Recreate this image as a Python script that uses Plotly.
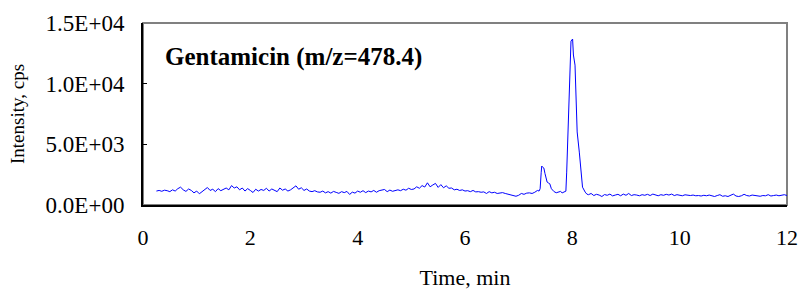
import numpy as np
import plotly.graph_objects as go

# ---- data ----
# baseline before the peaks, sampled every 0.05 min from 0.25 to 7.35 min
base1_start, base1_step = 0.25, 0.05
base1_values = [
    1150, 1200, 1130, 1220, 1180, 1100, 1250, 1150, 1350, 1470,
    1250, 1120, 1320, 1200, 1000, 1150, 925, 1100, 1250, 1440,
    1200, 1300, 1100, 1350, 1180, 1300, 1400, 1250, 1600, 1400,
    1500, 1250, 1400, 1150, 1350, 1200, 1030, 1300, 1150, 1280,
    1200, 1380, 1150, 1320, 1180, 1100, 1400, 1220, 1320, 1150,
    1250, 1380, 1580, 1300, 1420, 1200, 1320, 1150, 1100, 1180,
    1080, 1050, 1150, 1000, 1100, 980, 1120, 1040, 960, 1100,
    1020, 1120, 870, 1060, 980, 1150, 1050, 1180, 1020, 1150,
    1080, 1200, 1050, 1180, 1220, 1280, 1100, 1230, 1130, 1200,
    1250, 1180, 1300, 1220, 1380, 1280, 1320, 1500, 1380, 1600,
    1480, 1830, 1500, 1650, 1780, 1450, 1680, 1420, 1580, 1380,
    1400, 1250, 1300, 1200, 1250, 1150, 1180, 1100, 1200, 1080,
    1100, 1050, 1080, 950, 1100, 1000, 1050, 950, 980, 1020,
    950, 900, 850, 780, 720, 800, 950, 880, 980, 1000,
    950, 1050, 1200,
]

# peak region (irregular points)
peak_times = [7.38, 7.40, 7.42, 7.43, 7.45, 7.47, 7.49, 7.51, 7.53, 7.56,
              7.58, 7.61, 7.63, 7.66, 7.70, 7.74, 7.78, 7.81, 7.84, 7.88,
              7.895, 7.94, 7.97, 7.975, 8.005, 8.02, 8.05, 8.07, 8.09, 8.13,
              8.17, 8.19, 8.24, 8.27]
peak_values = [1150, 1340, 2700, 3210, 3100, 3040, 2600, 2170, 1890, 1800,
               1750, 1340, 1200, 1100, 1010, 1080, 1120, 1000, 1060, 1140,
               2710, 8080, 13320, 13510, 13680, 12360, 11530, 9050, 6020, 4360,
               2440, 1470, 1060, 900]

# baseline after the peaks, every 0.05 min from 8.30 to 12.00 min
base2_start, base2_step = 8.30, 0.05
base2_values = [
    850, 950, 780, 880, 820, 700, 860, 800, 900, 750,
    820, 880, 760, 900, 800, 950, 780, 850, 820, 760,
    850, 800, 880, 780, 900, 820, 760, 850, 800, 880,
    820, 900, 780, 850, 800, 760, 840, 800, 780, 820,
    760, 780, 740, 800, 760, 820, 740, 700, 780, 850,
    720, 760, 700, 780, 900, 740, 700, 760, 880, 780,
    740, 820, 800, 750, 720, 780, 760, 850, 740, 780,
    820, 760, 800, 850, 780,
]

y_tickvals = [0, 5000, 10000, 15000]
y_ticktext = ["0.0E+00", "5.0E+03", "1.0E+04", "1.5E+04"]
x_tickvals = [0, 2, 4, 6, 8, 10, 12]

title_text = "Gentamicin (m/z=478.4)"
x_title = "Time, min"
y_title = "Intensity, cps"

# ---- assemble ----
t1 = np.round(base1_start + base1_step * np.arange(len(base1_values)), 3)
t2 = np.round(base2_start + base2_step * np.arange(len(base2_values)), 3)
times = list(t1) + peak_times + list(t2)
values = base1_values + peak_values + base2_values

FONT = "Liberation Serif, Times New Roman, serif"

fig = go.Figure()
fig.add_trace(go.Scatter(x=times, y=values, mode="lines",
                         line=dict(color="#0000FF", width=1), showlegend=False,
                         hoverinfo="skip"))

fig.update_layout(
    width=799, height=290,
    margin=dict(l=143, r=12, t=23, b=85),
    paper_bgcolor="white", plot_bgcolor="white",
    font=dict(family=FONT, size=22, color="black"),
    xaxis=dict(range=[0, 12], tickvals=x_tickvals, ticks="", showgrid=False,
               zeroline=False, showline=True, linecolor="black", linewidth=2,
               ticklabelstandoff=12, automargin=False,
               title=dict(text=x_title, font=dict(size=22), standoff=29)),
    yaxis=dict(range=[0, 15000], tickvals=y_tickvals, ticktext=y_ticktext,
               ticks="inside", ticklen=4, tickwidth=1, tickcolor="black",
               showgrid=False, zeroline=False, showline=True, linecolor="black",
               linewidth=2, ticklabelstandoff=12, automargin=False,
               tickfont=dict(size=23),
               title=dict(text=y_title, font=dict(size=19), standoff=16)),
    shapes=[dict(type="rect", xref="paper", yref="paper", x0=0, x1=1, y0=0, y1=1,
                 line=dict(color="#808080", width=2), layer="below")],
    annotations=[dict(text="<b>" + title_text + "</b>", xref="paper", yref="paper",
                      x=0.031, y=0.815, xanchor="left", yanchor="middle",
                      showarrow=False, font=dict(size=25, family=FONT))],
)

# remove the default page margin so the 799x290 figure fills the window exactly
fig.write_html(
    "out.html",
    config={"displayModeBar": False},
    post_script="document.body.style.margin='0';document.body.style.overflow='hidden';",
)
